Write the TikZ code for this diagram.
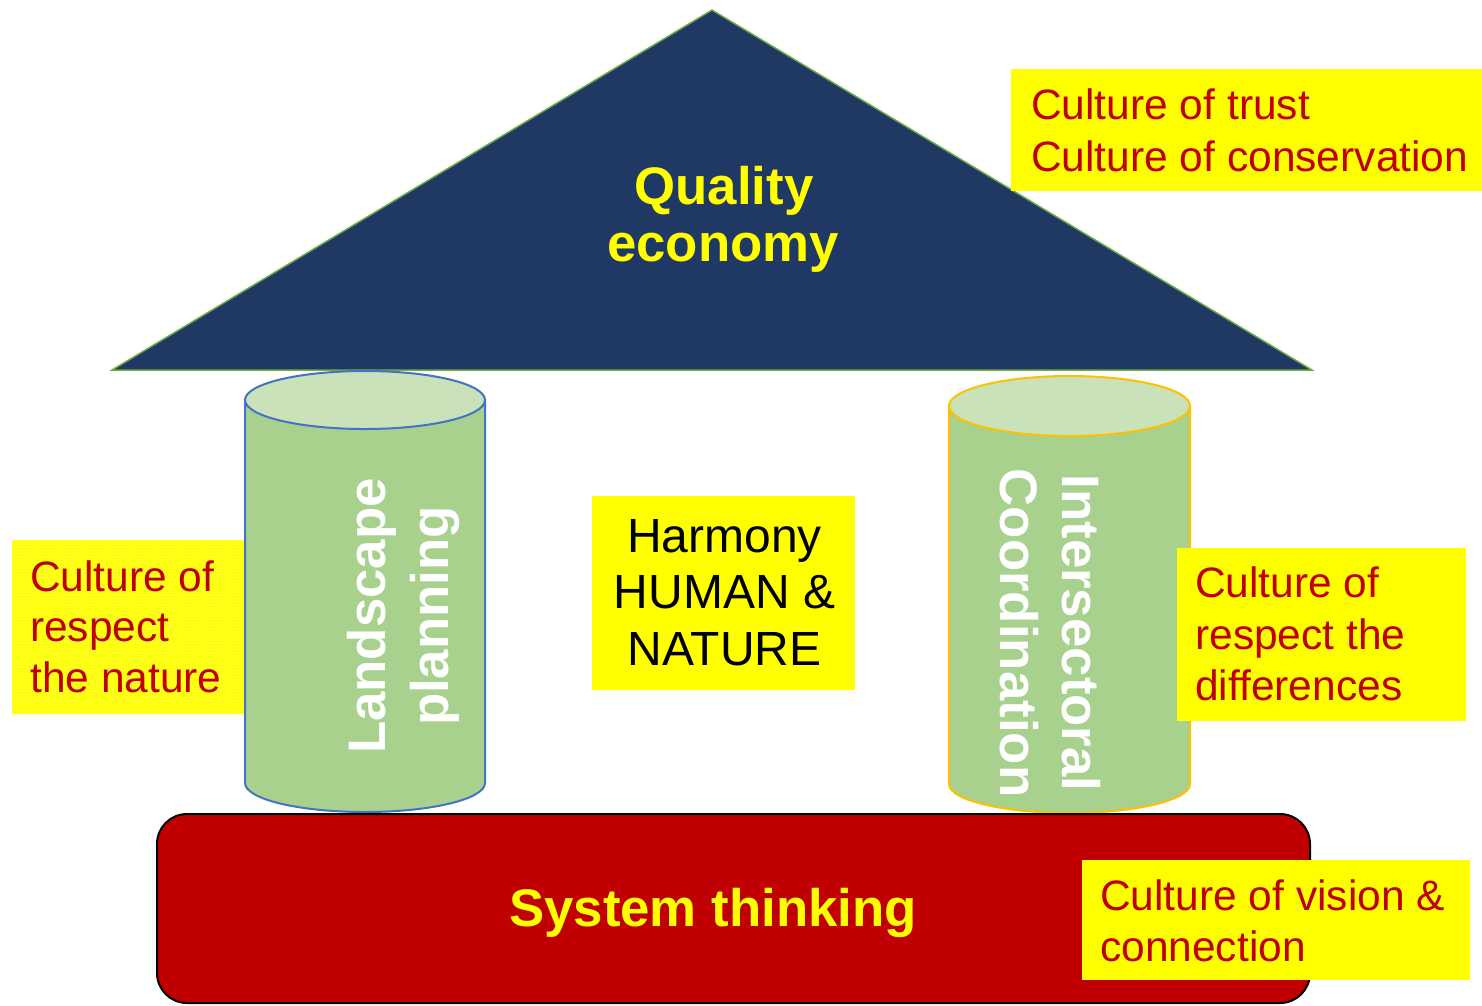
\documentclass[tikz,border=0pt]{standalone}
\usepackage{fontspec}
\setmainfont{Liberation Sans}
\usetikzlibrary{patterns}
\definecolor{roofnavy}{HTML}{203864}
\definecolor{roofgreen}{HTML}{70AD47}
\definecolor{cylbody}{HTML}{A9D18E}
\definecolor{cyltop}{HTML}{C9E2BA}
\definecolor{cylblue}{HTML}{4472C4}
\definecolor{cylorange}{HTML}{FFC000}
\definecolor{sysred}{HTML}{C00000}
\definecolor{cultred}{HTML}{C00000}
\definecolor{ybg}{HTML}{FFFF00}
\begin{document}
\begin{tikzpicture}[x=1pt,y=-1pt,
  redtxt/.style={inner sep=0pt, anchor=base west, text=cultred, font=\fontsize{42.5}{50}\selectfont},
  blacktxt/.style={inner sep=0pt, anchor=base, text=black, font=\fontsize{48}{56}\selectfont},
  titletxt/.style={inner sep=0pt, anchor=base, text=ybg, font=\bfseries\fontsize{52.8}{57}\selectfont},
  pillartxt/.style={inner sep=0pt, anchor=base, text=white, font=\bfseries\fontsize{52.8}{62}\selectfont},
  ybox/.style={fill=ybg}]
\useasboundingbox (0,0) rectangle (1482,1005);
% roof
\draw[fill=roofnavy, draw=roofgreen, line width=1.5pt, line join=miter] (712,10) -- (1312,370) -- (112,370) -- cycle;
% left culture box (patterned)
\fill[ybg] (12,540) rectangle (250,714);
\fill[pattern=crosshatch dots, pattern color=white!55!yellow] (12,540) rectangle (250,714);
% left cylinder
\draw[fill=cylbody, draw=cylblue, line width=2pt] (245,400) -- (245,783) arc[start angle=180, end angle=0, x radius=120, y radius=29] -- (485,400) -- cycle;
\draw[fill=cyltop, draw=cylblue, line width=2pt] (365,400) ellipse[x radius=120, y radius=29];
% right cylinder
\draw[fill=cylbody, draw=cylorange, line width=2pt] (949,406) -- (949,784) arc[start angle=180, end angle=0, x radius=120.5, y radius=29] -- (1190,406) -- cycle;
\draw[fill=cyltop, draw=cylorange, line width=2pt] (1069.5,406) ellipse[x radius=120.5, y radius=30];
% foundation
\draw[fill=sysred, draw=black, line width=2pt, rounded corners=30pt] (157,814) rectangle (1310,1003);
% yellow boxes
\fill[ybox] (1011,69) rectangle (1482,191);
\fill[ybox] (1177,548) rectangle (1466,721);
\fill[ybox] (1082,860) rectangle (1470,980);
\fill[ybox] (592,496) rectangle (855,690);
% titles
\node[titletxt] (q1) at (724,204) {Quality};
\node[titletxt] (q2) at (723,261) {economy};
\node[titletxt] (sys) at (713,926) {System thinking};
% pillars
\node[pillartxt, rotate=90] (lp1) at (385,616) {Landscape};
\node[pillartxt, rotate=90] (lp2) at (448,616) {planning};
\node[pillartxt, rotate=-90] (ic1) at (1062,633) {Intersectoral};
\node[pillartxt, rotate=-90] (ic2) at (1000,633) {Coordination};
% harmony
\node[blacktxt] (h1) at (724.5,552) {Harmony};
\node[blacktxt] (h2) at (724.5,608) {HUMAN \&};
\node[blacktxt] (h3) at (724.5,665) {NATURE};
% cultures
\node[redtxt] (t1) at (1031,119) {Culture of trust};
\node[redtxt] (t2) at (1031,171) {Culture of conservation};
\node[redtxt] (l1) at (30,591) {Culture of};
\node[redtxt] (l2) at (30,641) {respect};
\node[redtxt] (l3) at (30,692) {the nature};
\node[redtxt] (r1) at (1195,597) {Culture of};
\node[redtxt] (r2) at (1195,649) {respect the};
\node[redtxt] (r3) at (1195,700) {differences};
\node[redtxt] (b1) at (1100,910) {Culture of vision \&};
\node[redtxt] (b2) at (1100,961) {connection};
\end{tikzpicture}
\end{document}
